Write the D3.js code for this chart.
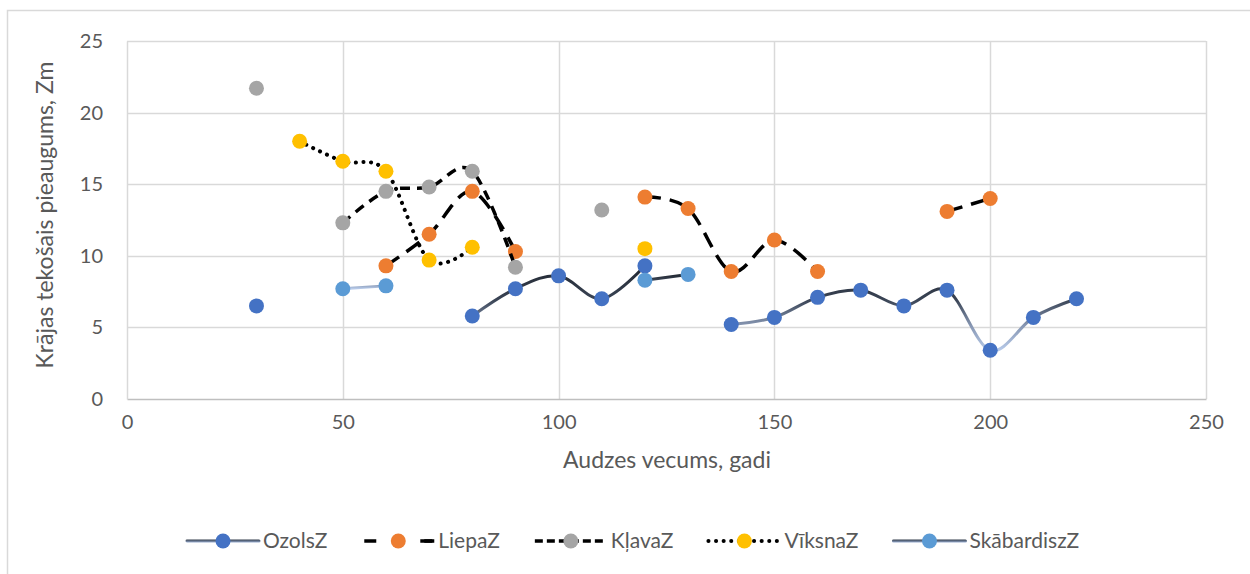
<!DOCTYPE html>
<html><head><meta charset="utf-8">
<script src="https://cdn.jsdelivr.net/npm/d3@7"></script>
<style>
body{margin:0;background:#fff;}
text{font-family:Lato,"Open Sans",sans-serif;fill:#595959;}
</style></head>
<body>
<svg id="chart" width="1250" height="574"></svg>
<script>
// ---- data ----
const ages = [30,40,50,60,70,80,90,100,110,120,130,140,150,160,170,180,190,200,210,220];
const ozols     = [6.5,null,null,null,null,5.8,7.7,8.6,7.0,9.3,null,5.2,5.7,7.1,7.6,6.5,7.6,3.4,5.7,7.0];
const liepa     = [null,null,null,9.3,11.5,14.5,10.3,null,null,14.1,13.3,8.9,11.1,8.9,null,null,13.1,14.0,null,null];
const klava     = [21.7,null,12.3,14.5,14.8,15.9,9.2,null,13.2,null,null,null,null,null,null,null,null,null,null,null];
const viksna    = [null,18.0,16.6,15.9,9.7,10.6,null,null,null,10.5,null,null,null,null,null,null,null,null,null,null];
const skabardis = [null,null,7.7,7.9,null,null,null,null,null,8.3,8.7,null,null,null,null,null,null,null,null,null];
const seriesNames = ["OzolsZ","LiepaZ","KļavaZ","VīksnaZ","SkābardiszZ"];
const xTicks = [0,50,100,150,200,250];
const yTicks = [0,5,10,15,20,25];
const xTitle = "Audzes vecums, gadi";
const yTitle = "Krājas tekošais pieaugums, Zm";

const seriesData = [ozols,liepa,klava,viksna,skabardis];
const styles = [
  {marker:"#4472C4", stroke:"url(#gradBlue)", dash:null, width:3, cap:"round"},
  {marker:"#ED7D31", stroke:"#000", dash:"16,9", width:3.5, cap:"butt"},
  {marker:"#A5A5A5", stroke:"#000", dash:"10,7", width:3.5, cap:"butt"},
  {marker:"#FFC000", stroke:"#000", dash:"0.1,7.5", width:4, cap:"round"},
  {marker:"#5B9BD5", stroke:"url(#gradBlue)", dash:null, width:3, cap:"round"}
];

const svg = d3.select("#chart");
const defs = svg.append("defs");
const g1 = defs.append("linearGradient").attr("id","gradBlue")
  .attr("x1",0).attr("y1",0).attr("x2",0).attr("y2",1);
[[0,"#20262f"],[0.4,"#3a4455"],[0.7,"#8696b2"],[1,"#b8cbea"]].forEach(s=>
  g1.append("stop").attr("offset",s[0]).attr("stop-color",s[1]));
const g2 = defs.append("linearGradient").attr("id","gradLegend")
  .attr("gradientUnits","userSpaceOnUse").attr("x1",0).attr("x2",0);

// outer border
svg.append("rect").attr("x",7.5).attr("y",10.5).attr("width",1400).attr("height",700)
  .attr("fill","none").attr("stroke","#d9d9d9").attr("stroke-width",1.5);

const x = d3.scaleLinear().domain([0,250]).range([127,1206]);
const y = d3.scaleLinear().domain([0,25]).range([399,41]);

// gridlines
svg.append("g").selectAll("line").data(yTicks.slice(1)).join("line")
  .attr("x1",x(0)).attr("x2",x(250)).attr("y1",d=>Math.round(y(d))+0.5).attr("y2",d=>Math.round(y(d))+0.5)
  .attr("stroke","#d9d9d9").attr("stroke-width",1.5);
svg.append("g").selectAll("line").data(xTicks.slice(1)).join("line")
  .attr("y1",y(0)).attr("y2",y(25)).attr("x1",d=>Math.round(x(d))+0.5).attr("x2",d=>Math.round(x(d))+0.5)
  .attr("stroke","#d9d9d9").attr("stroke-width",1.5);

// axes
const xAxis = svg.append("g").attr("transform",`translate(0,${y(0)})`)
  .call(d3.axisBottom(x).tickValues(xTicks).tickSize(0).tickPadding(16));
xAxis.select(".domain").attr("stroke","#bfbfbf").attr("stroke-width",1.5);
xAxis.selectAll("text").attr("font-size",20).style("fill","#595959");
const yAxis = svg.append("g").attr("transform",`translate(${x(0)},0)`)
  .call(d3.axisLeft(y).tickValues(yTicks).tickSize(0).tickPadding(24));
yAxis.select(".domain").attr("stroke","#d9d9d9").attr("stroke-width",1.5);
yAxis.selectAll("text").attr("font-size",20).style("fill","#595959");
svg.selectAll(".tick text").attr("font-family","Lato");

// titles
svg.append("text").attr("x",667).attr("y",468).attr("text-anchor","middle")
  .attr("font-size",23).text(xTitle);
svg.append("text").attr("transform","translate(53,215) rotate(-90)").attr("text-anchor","middle")
  .attr("font-size",23).text(yTitle);

// series
const line = d3.line().defined(d=>d[1]!==null)
  .x(d=>x(d[0])).y(d=>y(d[1])).curve(d3.curveCardinal.tension(0));
seriesData.forEach((vals,i)=>{
  const st = styles[i];
  const pts = ages.map((a,j)=>[a,vals[j]]);
  const g = svg.append("g");
  g.append("path").attr("d",line(pts)).attr("fill","none")
    .attr("stroke",st.stroke).attr("stroke-width",st.width)
    .attr("stroke-dasharray",st.dash).attr("stroke-linecap",st.cap);
  g.selectAll("circle").data(pts.filter(d=>d[1]!==null)).join("circle")
    .attr("cx",d=>x(d[0])).attr("cy",d=>y(d[1])).attr("r",7.5)
    .attr("fill",st.marker);
});

// legend
const ly = 541;
g2.attr("y1",ly-2).attr("y2",ly+2);
[[0,"#222a35"],[1,"#a7bde3"]].forEach(s=>g2.append("stop").attr("offset",s[0]).attr("stop-color",s[1]));
let lx = 187;
seriesNames.forEach((name,i)=>{
  const st = styles[i];
  const g = svg.append("g");
  g.append("line").attr("x1",lx).attr("x2",lx+72).attr("y1",ly).attr("y2",ly+0.01)
    .attr("stroke", st.stroke.startsWith("url") ? "url(#gradLegend)" : st.stroke)
    .attr("stroke-width",st.width).attr("stroke-linecap",st.cap)
    .attr("stroke-dasharray", i===1 ? "12,48" : (i===2 ? "8,4" : st.dash))
    .attr("stroke-dashoffset", i===1 ? -2 : 0);
  if(i===1){
    g.append("line").attr("x1",lx+58).attr("x2",lx+70).attr("y1",ly).attr("y2",ly)
      .attr("stroke","#000").attr("stroke-width",st.width);
  }
  g.append("circle").attr("cx",lx+36).attr("cy",ly).attr("r",7.5).attr("fill",st.marker);
  const t = g.append("text").attr("x",lx+76).attr("y",ly+7).attr("font-size",21).text(name);
  lx = lx + 76 + t.node().getComputedTextLength() + 35;
});
</script>
</body></html>
